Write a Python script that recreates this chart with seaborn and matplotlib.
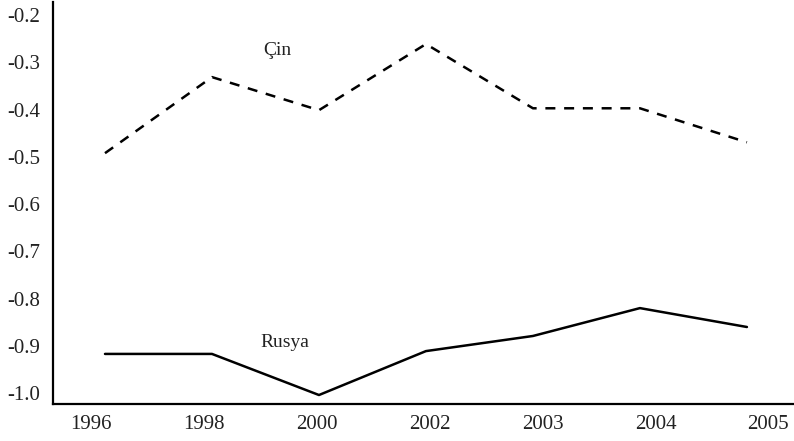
import numpy as np
import pandas as pd
import seaborn as sns
import matplotlib.pyplot as plt

# veriler
years = ['1996', '1998', '2000', '2002', '2003', '2004', '2005']
cin = [-0.492, -0.331, -0.401, -0.261, -0.397, -0.397, -0.469]
rusya = [-0.917, -0.917, -1.004, -0.911, -0.879, -0.820, -0.860]

df = pd.DataFrame({
    'idx': list(range(len(years))) * 2,
    'deger': cin + rusya,
    'ulke': ['Çin'] * len(years) + ['Rusya'] * len(years),
})

sns.set_style('white')
plt.rcParams['font.family'] = ['Liberation Serif', 'DejaVu Serif']

fig = plt.figure(figsize=(7.94, 4.41), dpi=100)
ax = fig.add_axes([53 / 794, 37 / 441, 1 - 53 / 794, 402 / 441])

sns.lineplot(data=df, x='idx', y='deger', style='ulke', color='black',
             dashes={'Çin': (4, 3.5), 'Rusya': ''}, linewidth=1.8,
             legend=False, ax=ax)

# etiketler noktalarla tam hizali degil, orijinaldeki gibi
ax.set_xticks(np.linspace(-0.13, 6.2, len(years)))
ax.set_xticklabels(years)
ax.set_yticks(np.arange(-1.0, -0.15, 0.1))
ax.set_yticklabels([f'{v:.1f}' for v in np.arange(-1.0, -0.15, 0.1)])
ax.set_xlim(-0.486, 6.44)
ax.set_ylim(-1.023, -0.172)
ax.tick_params(axis='both', length=0, labelsize=15, colors='#222222')
ax.tick_params(axis='y', pad=9)
ax.tick_params(axis='x', pad=8)
ax.set_xlabel('')
ax.set_ylabel('')

for side in ['top', 'right']:
    ax.spines[side].set_visible(False)
for side in ['left', 'bottom']:
    ax.spines[side].set_color('black')
    ax.spines[side].set_linewidth(1.6)

ax.text(1.61, -0.274, 'Çin', fontsize=14, ha='center', va='center', color='#222222')
ax.text(1.68, -0.892, 'Rusya', fontsize=14, ha='center', va='center', color='#222222')

fig.savefig('out.png', dpi=100)
